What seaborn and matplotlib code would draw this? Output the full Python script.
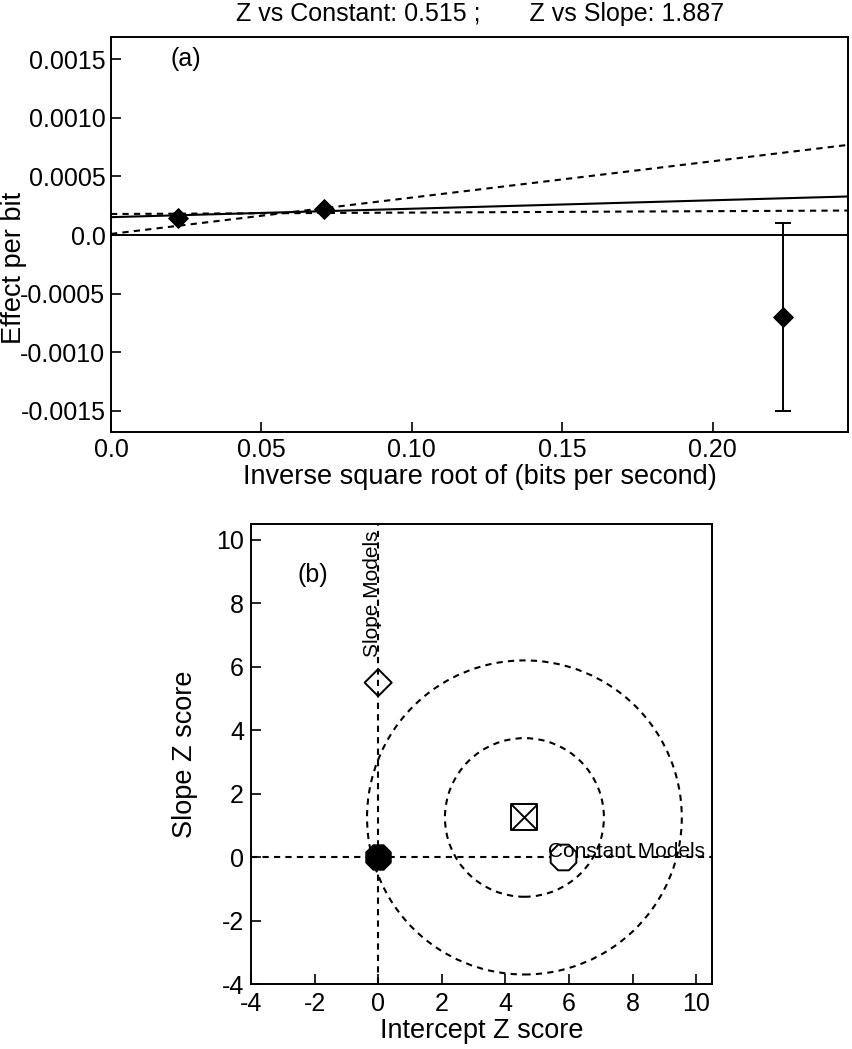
import numpy as np
import pandas as pd
import matplotlib
matplotlib.use("Agg")
import matplotlib.pyplot as plt
from matplotlib.patches import Circle
import seaborn as sns

## Data
# panel (a): effect per bit vs inverse sqrt of bit rate
inv_sqrt_rate = [0.0223, 0.0707, 0.2233]
effect = [0.00015, 0.00022, -0.0007]
effect_err = [0.00004, 0.00003, 0.0008]

# fitted models: intercept, slope, style
fit_intercepts = [0.000153, 0.00018, 0.00001]
fit_slopes = [0.00072, 0.00012, 0.0031]
fit_styles = ["solid", "dashed", "dashed"]

# panel (b): Z-score plane
intercept_z = [0.0, 5.8, 0.0, 4.6]
slope_z = [0.0, 0.0, 5.5, 1.25]
point_kind = ["filled", "constant", "slope", "best"]
circle_center = (4.6, 1.25)
circle_radii = [2.5, 4.95]

title = "Z vs Constant: 0.515 ;       Z vs Slope: 1.887"

## Style
sns.set_theme(style="ticks")
plt.rcParams["font.family"] = ["Liberation Sans", "DejaVu Sans"]
plt.rcParams["axes.unicode_minus"] = False
plt.rcParams["axes.linewidth"] = 1.4
plt.rcParams["axes.edgecolor"] = "black"
plt.rcParams["text.color"] = "black"
plt.rcParams["axes.labelcolor"] = "black"
plt.rcParams["xtick.color"] = "black"
plt.rcParams["ytick.color"] = "black"
plt.rcParams["xtick.direction"] = "in"
plt.rcParams["ytick.direction"] = "in"
plt.rcParams["xtick.major.size"] = 7
plt.rcParams["ytick.major.size"] = 7
plt.rcParams["xtick.major.width"] = 1.2
plt.rcParams["ytick.major.width"] = 1.2

W, H = 852, 1049
fig = plt.figure(figsize=(W / 100, H / 100), dpi=100)
dash = (0, (3, 2.5))
TICK_FS = 18
LABEL_FS = 19.5

# %%
## Panel (a)
ax1 = fig.add_axes([111 / W, 1 - 432 / H, 737 / W, 395 / H])
ax1.axhline(0, color="black", lw=1.4)
for b, m, st in zip(fit_intercepts, fit_slopes, fit_styles):
    ax1.axline((0, b), slope=m, color="black", lw=1.5,
               linestyle="-" if st == "solid" else dash)
ax1.errorbar(inv_sqrt_rate[:2], effect[:2], yerr=effect_err[:2], fmt="none",
             ecolor="black", elinewidth=1.4, capsize=0)
ax1.errorbar(inv_sqrt_rate[2:], effect[2:], yerr=effect_err[2:], fmt="none",
             ecolor="black", elinewidth=1.4, capsize=6, capthick=1.4)
df_a = pd.DataFrame({"x": inv_sqrt_rate, "y": effect})
sns.scatterplot(data=df_a, x="x", y="y", marker="D", s=100,
                color="black", edgecolor="black", ax=ax1, zorder=5)
ax1.set_xlim(0, 0.245)
ax1.set_ylim(-0.00168, 0.00169)
ax1.set_xticks([0.0, 0.05, 0.10, 0.15, 0.20])
ax1.set_xticklabels(["0.0", "0.05", "0.10", "0.15", "0.20"])
ax1.set_yticks([0.0015, 0.0010, 0.0005, 0.0, -0.0005, -0.0010, -0.0015])
ax1.set_yticklabels(["0.0015", "0.0010", "0.0005", "0.0", "-0.0005", "-0.0010", "-0.0015"])
ax1.tick_params(labelsize=TICK_FS, pad=4)
ax1.set_xlabel("Inverse square root of (bits per second)", fontsize=LABEL_FS, labelpad=2)
ax1.set_ylabel("Effect per bit", fontsize=LABEL_FS)
ax1.yaxis.set_label_coords(-0.114, 0.415)
ax1.text(0.0197, 0.0015, "(a)", fontsize=TICK_FS, va="center")
fig.text(480 / W, 1 - 14 / H, title, fontsize=18, ha="center", va="center")

# %%
## Panel (b)
ax2 = fig.add_axes([251 / W, 1 - 984 / H, 461 / W, 460 / H])
ax2.axhline(0, color="black", lw=1.5, linestyle=dash)
ax2.axvline(0, color="black", lw=1.5, linestyle=dash)
for r in circle_radii:
    ax2.add_patch(Circle(circle_center, r, fill=False, edgecolor="black",
                         lw=1.5, linestyle=dash))

df_b = pd.DataFrame({"x": intercept_z, "y": slope_z, "kind": point_kind})
sel = df_b[df_b.kind == "filled"]
sns.scatterplot(data=sel, x="x", y="y", marker="8", s=360, color="black",
                edgecolor="black", ax=ax2, zorder=5)
sel = df_b[df_b.kind == "constant"]
sns.scatterplot(data=sel, x="x", y="y", marker="8", s=400, facecolor="white",
                edgecolor="black", linewidth=1.4, ax=ax2, zorder=4)
sel = df_b[df_b.kind == "slope"]
sns.scatterplot(data=sel, x="x", y="y", marker="D", s=190, facecolor="none",
                edgecolor="black", linewidth=1.4, ax=ax2, zorder=5)
sel = df_b[df_b.kind == "best"]
sns.scatterplot(data=sel, x="x", y="y", marker="s", s=360, facecolor="white",
                edgecolor="black", linewidth=1.4, ax=ax2, zorder=5)
sns.scatterplot(data=sel, x="x", y="y", marker="x", s=330, color="black",
                linewidth=1.4, ax=ax2, zorder=6)

ax2.text(0, 6.3, "Slope Models", rotation=90, rotation_mode="anchor",
         ha="left", va="baseline", fontsize=15, zorder=7)
ax2.text(5.35, 0, "Constant Models", ha="left", va="baseline", fontsize=15, zorder=7)
ax2.text(-2.05, 8.9, "(b)", fontsize=TICK_FS, ha="center", va="center")

ax2.set_xlim(-4, 10.5)
ax2.set_ylim(-4, 10.5)
ax2.set_xticks(range(-4, 11, 2))
ax2.set_yticks(range(-4, 11, 2))
ax2.tick_params(labelsize=TICK_FS)
ax2.tick_params(axis="x", pad=6)
ax2.tick_params(axis="y", pad=5)
ax2.set_xlabel("Intercept Z score", fontsize=LABEL_FS, labelpad=1)
ax2.set_ylabel("Slope Z score", fontsize=LABEL_FS)
ax2.yaxis.set_label_coords(-0.115, 0.5)

fig.savefig("out.png", dpi=100)
